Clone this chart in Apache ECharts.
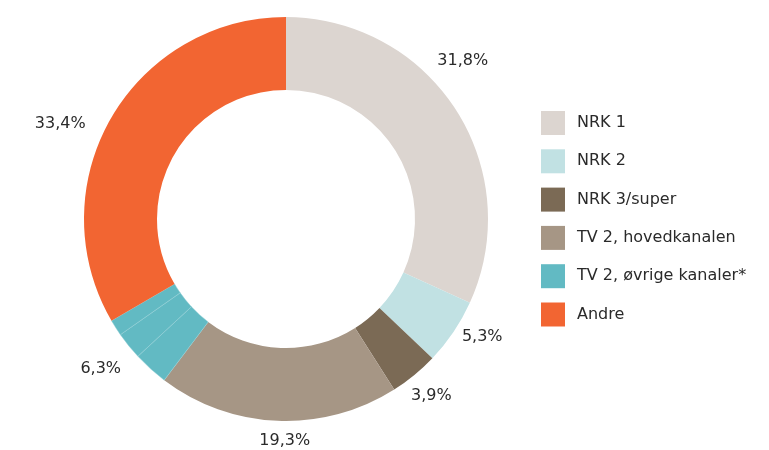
<!DOCTYPE html>
<html>
<head>
<meta charset="utf-8">
<script src="https://cdn.jsdelivr.net/npm/echarts@6/dist/echarts.min.js"></script>
</head>
<body style="margin:0">
<div id="chart" style="width:769px;height:450px"></div>
<script>
var categories = ['NRK 1', 'NRK 2', 'NRK 3/super', 'TV 2, hovedkanalen', 'TV 2, øvrige kanaler*', 'Andre'];
var shares = [31.8, 5.3, 3.9, 19.3, 6.3, 33.4];
var colors = ['#dcd5d0', '#c1e1e3', '#7b6a55', '#a69685', '#62bac3', '#f26532'];
// the "øvrige kanaler" slice is drawn as three thin-lined parts
var ovrigeParts = [2.8, 2.2, 1.3];

// label placement: distance from centre and small angle nudge (deg) per category
var labelRadius = [237, 229, 229, 222, 238, 245];
var labelNudge = [-9, -3, 0, -2, 0, -7];

var cx = 286, cy = 219;

function pct(v) { return v.toFixed(1).replace('.', ',') + '%'; }

var data = [];
var labelPos = [];
var total = 0;
shares.forEach(function (v) { total += v; });
var acc = 0;
categories.forEach(function (name, i) {
    var parts = name === 'TV 2, øvrige kanaler*' ? ovrigeParts : [shares[i]];
    parts.forEach(function (p, j) {
        var showLabel = parts.length === 1 || j === 1;
        var mid = (acc + p / 2) / total * 360 + labelNudge[i];
        acc += p;
        var rad = mid * Math.PI / 180;
        labelPos.push({
            x: cx + labelRadius[i] * Math.sin(rad),
            y: cy - labelRadius[i] * Math.cos(rad)
        });
        data.push({
            name: name,
            value: p,
            itemStyle: parts.length > 1
                ? { color: colors[i], borderColor: '#96d1d6', borderWidth: 0.5 }
                : { color: colors[i] },
            label: { show: showLabel, formatter: pct(shares[i]) }
        });
    });
});

var chart = echarts.init(document.getElementById('chart'));
chart.setOption({
    animation: false,
    legend: {
        orient: 'vertical',
        left: 541,
        top: 111,
        padding: 0,
        itemWidth: 24,
        itemHeight: 24,
        itemGap: 14.3,
        icon: 'rect',
        data: categories,
        itemStyle: { borderWidth: 0 },
        textStyle: { fontFamily: 'DejaVu Sans', fontSize: 16, color: '#2a2a2a', padding: [0, 0, 0, 7] }
    },
    series: [{
        type: 'pie',
        center: [cx, cy],
        radius: [129, 202],
        startAngle: 90,
        clockwise: true,
        avoidLabelOverlap: false,
        itemStyle: { borderWidth: 0 },
        label: {
            position: 'outside',
            fontFamily: 'DejaVu Sans',
            fontSize: 16,
            color: '#2a2a2a'
        },
        labelLine: { show: false },
        labelLayout: function (params) {
            var p = labelPos[params.dataIndex];
            return { x: p.x, y: p.y, align: 'center', verticalAlign: 'middle' };
        },
        emphasis: { disabled: true },
        data: data
    }]
});
</script>
</body>
</html>
